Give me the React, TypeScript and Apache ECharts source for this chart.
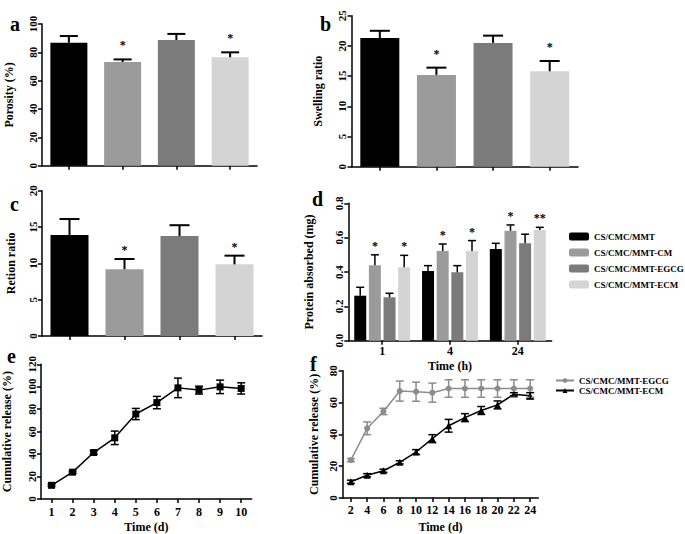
import React, { useEffect, useRef } from "react";
import * as echarts from "echarts";

const groups = ["CS/CMC/MMT", "CS/CMC/MMT-CM", "CS/CMC/MMT-EGCG", "CS/CMC/MMT-ECM"];
const barColors = ["#000000", "#9b9b9b", "#7b7b7b", "#d4d4d4"];

const porosity = [86.8, 73.2, 88.7, 76.5];
const porosityErr = [4.7, 1.8, 4.3, 3.5];
const porosityStars = ["", "*", "", "*"];

const swelling = [21.3, 15.2, 20.5, 15.8];
const swellingErr = [1.2, 1.2, 1.2, 1.7];
const swellingStars = ["", "*", "", "*"];

const retention = [13.9, 9.2, 13.75, 9.86];
const retentionErr = [2.2, 1.4, 1.5, 1.2];
const retentionStars = ["", "*", "", "*"];

const timeH = ["1", "4", "24"];
const protein = [
  [0.262, 0.406, 0.534],
  [0.44, 0.522, 0.64],
  [0.253, 0.398, 0.567],
  [0.428, 0.522, 0.645],
];
const proteinErr = [
  [0.049, 0.031, 0.033],
  [0.06, 0.041, 0.034],
  [0.023, 0.039, 0.053],
  [0.069, 0.061, 0.015],
];
const proteinStars = [
  ["", "", ""],
  ["*", "*", "*"],
  ["", "", ""],
  ["*", "*", "**"],
];

const daysE = ["1", "2", "3", "4", "5", "6", "7", "8", "9", "10"];
const releaseE = [12.2, 23.9, 41.4, 54.5, 75.7, 85.9, 99, 97, 99.9, 98.5];
const releaseEErr = [1, 1, 1.5, 6, 5, 5.5, 8.7, 3.5, 6, 5];

const daysF = ["2", "4", "6", "8", "10", "12", "14", "16", "18", "20", "22", "24"];
const releaseFNames = ["CS/CMC/MMT-EGCG", "CS/CMC/MMT-ECM"];
const releaseEgcg = [23.8, 43.8, 54.4, 67.2, 66.8, 66.2, 68.8, 68.8, 68.8, 68.8, 68.8, 68.8];
const releaseEgcgErr = [1, 4, 2, 6.3, 6, 6, 5.5, 5.5, 5.5, 5.5, 5.5, 5.5];
const releaseEcm = [10.2, 14.3, 17.1, 22.4, 28.9, 37.3, 45.4, 50.5, 55, 58.5, 65.2, 64.2];
const releaseEcmErr = [1, 1, 1, 1, 1.5, 2.5, 4, 2.5, 2.5, 2.5, 1, 2];

const FONT = '"Liberation Serif", "DejaVu Serif", serif';
const F_PREFIX = "f:";

function errSeries(
  axis: number,
  values: number[],
  errs: number[],
  stars: string[] | null,
  o: { offset: number; cap: number; lw: number; starGap: number; color: string; both: boolean }
) {
  return {
    type: "custom",
    xAxisIndex: axis,
    yAxisIndex: axis,
    z: 5,
    silent: true,
    itemStyle: { color: o.color },
    data: values.map((v, i) => [i, v, errs[i]]),
    renderItem: (params: any, api: any) => {
      const idx = params.dataIndex;
      const xv = api.value(0);
      const v = api.value(1);
      const e = api.value(2);
      const c = api.coord([xv, v]);
      const top = api.coord([xv, v + e]);
      const bot = o.both ? api.coord([xv, v - e]) : c;
      const x = c[0] + o.offset;
      const st = { stroke: o.color, lineWidth: o.lw };
      const children: any[] = [
        { type: "line", shape: { x1: x, y1: bot[1], x2: x, y2: top[1] }, style: st },
        { type: "line", shape: { x1: x - o.cap, y1: top[1], x2: x + o.cap, y2: top[1] }, style: st },
      ];
      if (o.both) {
        children.push({ type: "line", shape: { x1: x - o.cap, y1: bot[1], x2: x + o.cap, y2: bot[1] }, style: st });
      }
      const s = stars ? stars[idx] : "";
      if (s) {
        children.push({
          type: "text",
          x,
          y: top[1] - o.starGap + 3,
          style: {
            text: s,
            fill: "#000",
            textFill: "#000",
            font: `bold 12px ${FONT}`,
            align: "center",
            verticalAlign: "middle",
          },
        });
      }
      return { type: "group", children };
    },
  };
}

const axisLineStyle = { lineStyle: { color: "#000", width: 1.5 } };
const tickStyle = { length: 4, lineStyle: { color: "#000", width: 1.5 } };
const labelStyle = { color: "#000", fontFamily: FONT, fontWeight: "bold" as const, fontSize: 11 };
const nameStyle = { color: "#000", fontFamily: FONT, fontWeight: "bold" as const, fontSize: 12 };

function yAxis(grid: number, max: number, interval: number, name: string, gap: number, fmt?: (v: number) => string) {
  return {
    type: "value",
    gridIndex: grid,
    min: 0,
    max,
    interval,
    name,
    nameLocation: "middle",
    nameGap: gap,
    nameRotate: 90,
    nameTextStyle: nameStyle,
    axisLine: { show: true, ...axisLineStyle },
    axisTick: { show: true, ...tickStyle },
    splitLine: { show: false },
    axisLabel: { ...labelStyle, rotate: 90, margin: 4, formatter: fmt },
  };
}

function xAxis(grid: number, data: string[], showLabel: boolean, name = "", gap = 20, margin = 6) {
  return {
    type: "category",
    gridIndex: grid,
    data,
    name,
    nameLocation: "middle",
    nameGap: gap,
    nameTextStyle: nameStyle,
    axisLine: axisLineStyle,
    axisTick: { show: true, alignWithLabel: true, ...tickStyle },
    axisLabel: { ...labelStyle, show: showLabel, fontSize: 12, margin, interval: 0 },
    splitLine: { show: false },
  };
}

function barSeries(axis: number, values: number[], width: number) {
  return {
    type: "bar",
    xAxisIndex: axis,
    yAxisIndex: axis,
    barWidth: width,
    data: values.map((v, i) => ({ value: v, itemStyle: { color: barColors[i] } })),
  };
}

const letter = (t: string, x: number, baseline: number) => ({
  type: "text",
  x,
  y: baseline + 4,
  style: { text: t, fill: "#000", font: `bold 20px ${FONT}`, verticalAlign: "bottom" },
});

export default function App() {
  const ref = useRef<HTMLDivElement>(null);
  useEffect(() => {
    if (!ref.current) return;
    const chart = echarts.init(ref.current, undefined, { renderer: "svg" });
    const dOffsets = [-22, -7.3, 7.3, 22];
    const option: any = {
      animation: false,
      backgroundColor: "#fff",
      grid: [
        { left: 42, top: 24, width: 215, height: 141.7 },
        { left: 351.5, top: 15.7, width: 226.5, height: 151 },
        { left: 42, top: 190.7, width: 220, height: 145.3 },
        { left: 348.3, top: 203.3, width: 203.4, height: 137.4 },
        { left: 40, top: 364.3, width: 211.7, height: 137.4 },
        { left: 342.7, top: 370.7, width: 195.6, height: 131 },
      ],
      xAxis: [
        xAxis(0, groups, false),
        xAxis(1, groups, false),
        xAxis(2, groups, false),
        xAxis(3, timeH, true, "Time (h)", 19, 4),
        xAxis(4, daysE, true, "Time (d)", 22, 7),
        xAxis(5, daysF, true, "Time (d)", 23),
      ],
      yAxis: [
        yAxis(0, 100, 20, "Porosity (%)", 27),
        yAxis(1, 25, 5, "Swelling ratio", 28),
        yAxis(2, 20, 5, "Retion ratio", 25),
        yAxis(3, 0.8, 0.2, "Protein absorbed (mg)", 33, (v: number) => v.toFixed(1)),
        yAxis(4, 120, 20, "Cumulative release (%)", 28),
        yAxis(5, 80, 20, "Cumulative release (%)", 23),
      ],
      legend: [
        {
          data: groups,
          orient: "vertical",
          left: 564,
          top: 227,
          itemWidth: 20,
          itemHeight: 8,
          itemGap: 7,
          icon: "roundRect",
          selectedMode: false,
          textStyle: { ...labelStyle, fontSize: 9 },
        },
        {
          data: releaseFNames.map((n) => F_PREFIX + n),
          orient: "vertical",
          left: 550,
          top: 371,
          itemWidth: 18,
          itemHeight: 6,
          itemGap: 1,
          selectedMode: false,
          formatter: (n: string) => n.slice(F_PREFIX.length),
          textStyle: { ...labelStyle, fontSize: 9 },
        },
      ],
      graphic: [
        letter("a", 10, 30),
        letter("b", 320, 30),
        letter("c", 10, 210),
        letter("d", 312, 205),
        letter("e", 7, 362),
        letter("f", 310, 370),
      ],
      series: [
        barSeries(0, porosity, 37),
        errSeries(0, porosity, porosityErr, porosityStars, { offset: 0, cap: 9, lw: 2, starGap: 17, color: "#000", both: false }),
        barSeries(1, swelling, 39),
        errSeries(1, swelling, swellingErr, swellingStars, { offset: 0, cap: 10, lw: 2, starGap: 17, color: "#000", both: false }),
        barSeries(2, retention, 38),
        errSeries(2, retention, retentionErr, retentionStars, { offset: 0, cap: 10, lw: 2, starGap: 12, color: "#000", both: false }),
        ...groups.map((g, k) => ({
          type: "bar",
          name: g,
          xAxisIndex: 3,
          yAxisIndex: 3,
          barWidth: 12,
          barGap: "22%",
          itemStyle: { color: barColors[k] },
          data: protein[k],
        })),
        ...groups.map((g, k) =>
          errSeries(3, protein[k], proteinErr[k], proteinStars[k], {
            offset: dOffsets[k],
            cap: 4,
            lw: 1.5,
            starGap: 12,
            color: "#000",
            both: false,
          })
        ),
        {
          type: "line",
          xAxisIndex: 4,
          yAxisIndex: 4,
          data: releaseE,
          symbol: "rect",
          symbolSize: 7,
          lineStyle: { color: "#000", width: 1.5 },
          itemStyle: { color: "#000" },
        },
        errSeries(4, releaseE, releaseEErr, null, { offset: 0, cap: 4, lw: 1.5, starGap: 0, color: "#000", both: true }),
        {
          type: "line",
          name: F_PREFIX + releaseFNames[0],
          xAxisIndex: 5,
          yAxisIndex: 5,
          data: releaseEgcg,
          symbol: "circle",
          symbolSize: 6,
          lineStyle: { color: "#8c8c8c", width: 1.5 },
          itemStyle: { color: "#8c8c8c" },
        },
        errSeries(5, releaseEgcg, releaseEgcgErr, null, { offset: 0, cap: 4, lw: 1.5, starGap: 0, color: "#8c8c8c", both: true }),
        {
          type: "line",
          name: F_PREFIX + releaseFNames[1],
          xAxisIndex: 5,
          yAxisIndex: 5,
          data: releaseEcm,
          symbol: "triangle",
          symbolSize: 7,
          lineStyle: { color: "#000", width: 1.5 },
          itemStyle: { color: "#000" },
        },
        errSeries(5, releaseEcm, releaseEcmErr, null, { offset: 0, cap: 4, lw: 1.5, starGap: 0, color: "#000", both: true }),
      ],
    };
    chart.setOption(option);
    return () => chart.dispose();
  }, []);
  return (
    <div
      ref={ref}
      style={{ position: "fixed", left: 0, top: 0, width: 685, height: 534, background: "#fff" }}
    />
  );
}
